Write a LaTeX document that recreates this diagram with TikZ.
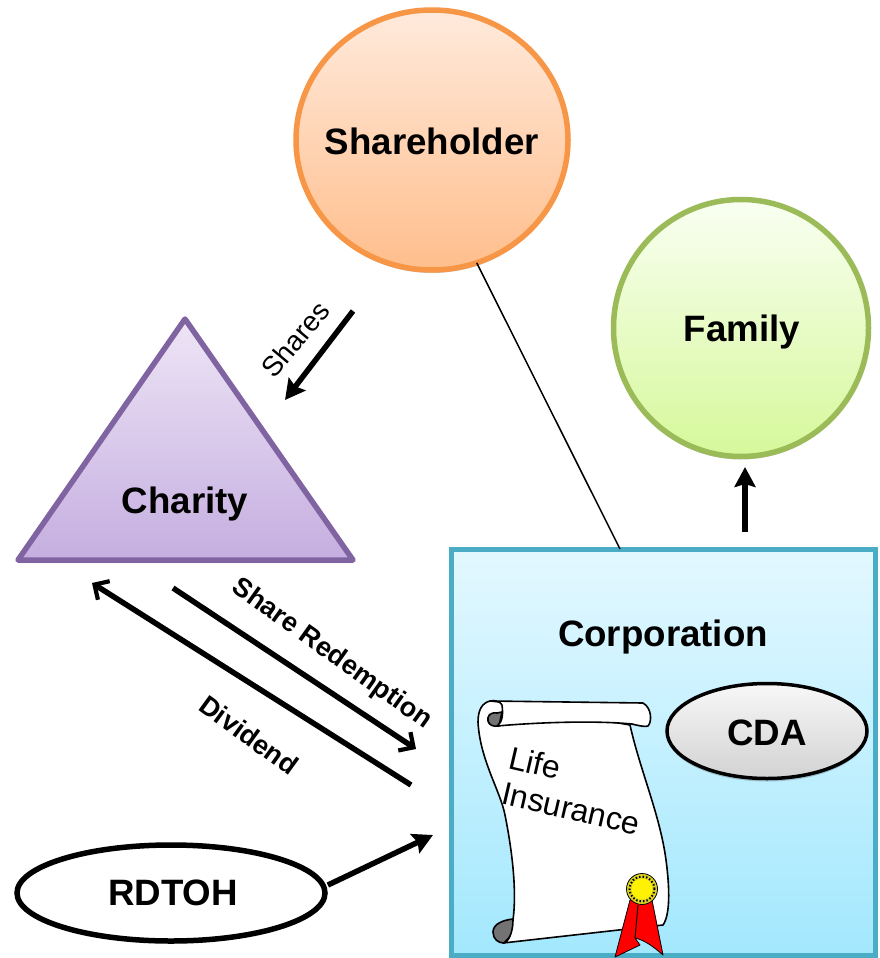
\documentclass[tikz,border=0pt]{standalone}
\usepackage{fontspec}
\setmainfont{Liberation Sans}
\usetikzlibrary{arrows.meta,shapes.geometric,shadows}
\definecolor{orangeb}{HTML}{F79646}
\definecolor{greenb}{HTML}{9BBB59}
\definecolor{purpleb}{HTML}{8064A2}
\definecolor{blueb}{HTML}{4BACC6}
\definecolor{ortop}{HTML}{FFEADC}
\definecolor{orbot}{HTML}{FFBE8C}
\definecolor{grtop}{HTML}{F9FFF2}
\definecolor{grbot}{HTML}{D6F89A}
\definecolor{putop}{HTML}{EEE5F6}
\definecolor{pubot}{HTML}{C5AEE0}
\definecolor{bltop}{HTML}{E3F8FF}
\definecolor{blbot}{HTML}{A3E8FE}
\tikzset{
  softshadow/.style={drop shadow={shadow xshift=0pt,shadow yshift=-3pt,opacity=.2,fill=black}},
  bodylabel/.style={font=\fontsize{36.7}{40}\selectfont\bfseries,text=black,inner sep=0pt},
  blob/.style={shape=ellipse,inner sep=0pt,outer sep=0pt,line width=5.5pt,softshadow},
  heavy/.style={line width=5.5pt,black},
  solidtip/.style={heavy,-{Stealth[length=20pt,width=21pt,inset=3pt]}},
  opentip/.style={heavy,-{Straight Barb[length=11pt,width=22pt,line width=4.2pt]}},
  edge label/.style={font=\fontsize{27}{30}\selectfont\bfseries,inner sep=0pt},
  scrollline/.style={draw=black,line width=1.6pt,line join=round},
}
\begin{document}
\begin{tikzpicture}[x=1pt,y=-1pt]
\useasboundingbox (0,0) rectangle (880,958);
% Shapes
\node[blob,minimum width=272pt,minimum height=260pt,draw=orangeb,top color=ortop,bottom color=orbot] (sh) at (432,140) {};
\node[bodylabel] (shl) at (432,141) {Shareholder};
\node[blob,minimum width=255pt,minimum height=257pt,draw=greenb,top color=grtop,bottom color=grbot] (fam) at (741,328) {};
\node[bodylabel] (faml) at (742,332) {Family};
\coordinate (tA) at (185,319);
\coordinate (tB) at (18,560);
\coordinate (tC) at (353,560);
\path[softshadow,draw=purpleb,line width=5.5pt,line join=round,top color=putop,bottom color=pubot] (tA) -- (tC) -- (tB) -- cycle;
\node[bodylabel] (chl) at (185,504) {Charity};
\node[rectangle,minimum width=424pt,minimum height=406pt,inner sep=0pt,outer sep=0pt,draw=blueb,line width=5pt,top color=bltop,bottom color=blbot,softshadow] (corp) at (663,752) {};
\node[bodylabel] (corpl) at (663,637) {Corporation};
\node[shape=ellipse,minimum width=200pt,minimum height=95pt,inner sep=0pt,outer sep=0pt,draw=black,line width=3.5pt,top color=gray!6!white,bottom color=gray!35!white,softshadow] (cda) at (767,731) {};
\node[bodylabel] (cdal) at (767,733) {CDA};
\node[shape=ellipse,minimum width=308pt,minimum height=96pt,inner sep=0pt,outer sep=0pt,draw=black,line width=5.5pt,fill=white] (rd) at (171,893) {};
\node[bodylabel] (rdl) at (173,893) {RDTOH};
% Scroll
\path[fill=gray!90!black,scrollline] (513,919) .. controls (503,920) and (493,924) .. (493,932) .. controls (493,939) and (498,943) .. (504,943) -- (516,930) -- cycle;
\path[fill=white,scrollline] (490,701) .. controls (482,703) and (478,710) .. (478,722)
  .. controls (480,760) and (500,790) .. (505,815)
  .. controls (512,850) and (517,890) .. (513,920)
  .. controls (513,933) and (508,943) .. (503,943)
  -- (663,925)
  .. controls (670,915) and (670,890) .. (666,860)
  .. controls (660,815) and (640,770) .. (630,725)
  -- (500,702) -- cycle;
\path[fill=gray!90!black,scrollline] (497,713) .. controls (490,712) and (487,716) .. (488,721) .. controls (489,725) and (493,727) .. (499,726) -- (502,712) -- cycle;
\path[fill=white,scrollline] (490,701) .. controls (495,700) and (500,701) .. (502,705)
  .. controls (503,713) and (503,722) .. (497,726)
  .. controls (530,723) and (590,720) .. (632,724)
  .. controls (640,726) and (645,727) .. (648,726)
  .. controls (652,722) and (652,708) .. (643,703)
  -- cycle;
\path[fill=red,scrollline,line width=.8pt] (630,900) -- (615,957) -- (640,945) -- (635,938) .. controls (645,940) and (655,948) .. (663,955) -- (652,900) -- cycle;
\draw[black,line width=1pt] (638,905) -- (635,938);
\node[circle,minimum size=31pt,inner sep=0pt,fill=yellow!85!black,draw=black,line width=.8pt] (medal) at (642,889) {};
\draw[black,line width=2pt,dash pattern=on 1.5pt off 2pt] (medal.center) circle[radius=12.5pt];
\node[circle,minimum size=21pt,inner sep=0pt,fill=yellow] (medalin) at (642,889) {};
\node[font=\fontsize{32}{34}\selectfont,rotate=-13,inner sep=0pt] (life) at (535,763) {Life};
\node[font=\fontsize{32}{34}\selectfont,rotate=-13,inner sep=0pt] (ins) at (571,809) {Insurance};
% Connector ends
\coordinate (c1) at (620,549);
\coordinate (famS) at (745,532);
\coordinate (famE) at (745,467);
\coordinate (shS) at (353,311);
\coordinate (shE) at (285,400);
\coordinate (redS) at (173,588);
\coordinate (redE) at (416,749);
\coordinate (divS) at (411,785);
\coordinate (divE) at (92,583);
\coordinate (rdE) at (433,835);
% Connectors
\draw[black,line width=1.5pt] (sh.-70.5) -- (c1);
\draw[solidtip] (famS) -- (famE);
\draw[solidtip] (shS) -- (shE);
\draw[opentip] (redS) -- (redE);
\draw[opentip] (divS) -- (divE);
\draw[solidtip] ([xshift=5pt]rd.3.7) -- (rdE);
% Labels
\node[font=\fontsize{28}{30}\selectfont,rotate=50,inner sep=0pt] (shares) at (295,339) {Shares};
\node[edge label,rotate=-35.5] (redl) at (331.5,654.5) {Share Redemption};
\node[edge label,rotate=-36] (divl) at (249,735) {Dividend};
\end{tikzpicture}
\end{document}
